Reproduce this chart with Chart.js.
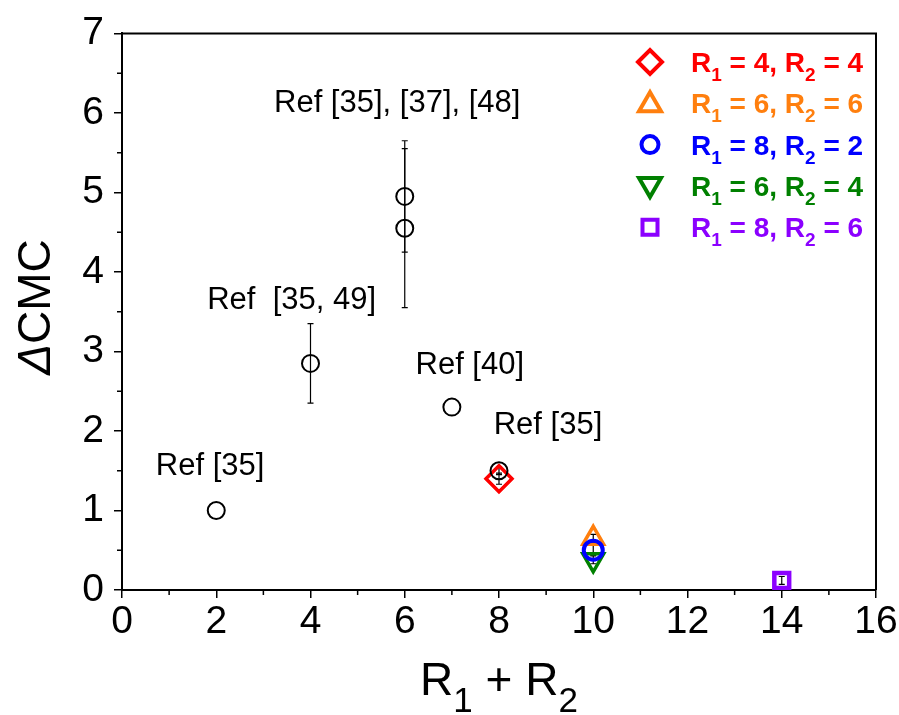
<!DOCTYPE html>
<html>
<head>
<meta charset="utf-8">
<script src="https://cdn.jsdelivr.net/npm/chart.js@4"></script>
<style>
html,body{margin:0;padding:0;background:#fff;}
#wrap{width:899px;height:715px;}
</style>
</head>
<body>
<div id="wrap"><canvas id="c" width="899" height="715"></canvas></div>
<script>
// ---- data ----
const xTicks = [0, 2, 4, 6, 8, 10, 12, 14, 16];
const yTicks = [0, 1, 2, 3, 4, 5, 6, 7];

const refX = [2, 4, 6, 6, 7, 8];
const refY = [1.0, 2.85, 4.95, 4.55, 2.3, 1.5];
const refErr = [0, 0.5, 0.7, 1.0, 0, 0.05];

const r44X = [8];   const r44Y = [1.4];  const r44Err = [0.07];
const r66X = [10];  const r66Y = [0.65]; const r66Err = [0.05];
const r82X = [10];  const r82Y = [0.5];  const r82Err = [0.06];
const r64X = [10];  const r64Y = [0.38]; const r64Err = [0.05];
const r86X = [14];  const r86Y = [0.12]; const r86Err = [0.05];

const refLabels = ['Ref [35]', 'Ref  [35, 49]', 'Ref [35], [37], [48]', 'Ref [40]', 'Ref [35]'];
const refLabelX = [1.87, 3.6, 5.84, 7.38, 9.04];
const refLabelY = [1.56, 3.64, 6.12, 2.82, 2.07];

const legendItems = [
  {a: '4', b: '4'}, {a: '6', b: '6'}, {a: '8', b: '2'}, {a: '6', b: '4'}, {a: '8', b: '6'}
];

// ---- build ----
const FONT = '"Liberation Sans", Arial, sans-serif';
function pts(xs, ys) { return xs.map((x, i) => ({x: x, y: ys[i]})); }

const datasets = [
  {label: 'Ref', data: pts(refX, refY), err: refErr, pointStyle: 'circle', pointRadius: 8.5,
   borderColor: '#000', backgroundColor: 'rgba(0,0,0,0)', borderWidth: 2, order: 0},
  {label: 'R1 = 4, R2 = 4', data: pts(r44X, r44Y), err: r44Err, pointStyle: 'rectRot', pointRadius: 13,
   borderColor: '#ff0000', backgroundColor: 'rgba(0,0,0,0)', borderWidth: 3.5, order: 3},
  {label: 'R1 = 6, R2 = 6', data: pts(r66X, r66Y), err: r66Err, pointStyle: 'triangle', pointRadius: 12,
   borderColor: '#ff7f0e', backgroundColor: 'rgba(0,0,0,0)', borderWidth: 3.5, order: 4},
  {label: 'R1 = 8, R2 = 2', data: pts(r82X, r82Y), err: r82Err, pointStyle: 'circle', pointRadius: 9.5,
   borderColor: '#0000ff', backgroundColor: 'rgba(0,0,0,0)', borderWidth: 4, order: 1},
  {label: 'R1 = 6, R2 = 4', data: pts(r64X, r64Y), err: r64Err, pointStyle: 'triangle', rotation: 180, pointRadius: 12,
   borderColor: '#008000', backgroundColor: 'rgba(0,0,0,0)', borderWidth: 3.5, order: 5},
  {label: 'R1 = 8, R2 = 6', data: pts(r86X, r86Y), err: r86Err, pointStyle: 'rect', pointRadius: 10.5,
   borderColor: '#8b00ff', backgroundColor: 'rgba(0,0,0,0)', borderWidth: 4.5, order: 2}
];

const legendColors = ['#ff0000', '#ff7f0e', '#0000ff', '#008000', '#8b00ff'];
const legendStyles = ['rectRot', 'triangle', 'circle', 'triangleDown', 'rect'];

const extras = {
  id: 'extras',
  beforeDatasetsDraw(chart) {
    const ctx = chart.ctx, xs = chart.scales.x, ys = chart.scales.y;
    ctx.save();
    ctx.strokeStyle = '#000';
    ctx.lineWidth = 1.2;
    chart.data.datasets.forEach(ds => {
      ds.data.forEach((p, i) => {
        const e = ds.err[i];
        if (!e) return;
        const px = xs.getPixelForValue(p.x);
        const y1 = ys.getPixelForValue(p.y - e), y2 = ys.getPixelForValue(p.y + e);
        ctx.beginPath();
        ctx.moveTo(px, y1); ctx.lineTo(px, y2);
        ctx.moveTo(px - 3, y1); ctx.lineTo(px + 3, y1);
        ctx.moveTo(px - 3, y2); ctx.lineTo(px + 3, y2);
        ctx.stroke();
      });
    });
    ctx.restore();
  },
  afterDraw(chart) {
    const ctx = chart.ctx, xs = chart.scales.x, ys = chart.scales.y, a = chart.chartArea;
    ctx.save();
    ctx.strokeStyle = '#000';
    ctx.lineWidth = 2;
    ctx.beginPath();
    ctx.moveTo(a.left, a.top); ctx.lineTo(a.right, a.top); ctx.lineTo(a.right, a.bottom);
    ctx.stroke();
    ctx.lineWidth = 1.5;
    ctx.beginPath();
    for (let v = 1; v < 16; v += 2) {
      const px = xs.getPixelForValue(v);
      ctx.moveTo(px, a.bottom); ctx.lineTo(px, a.bottom + 5);
    }
    for (let v = 0.5; v < 7; v += 1) {
      const py = ys.getPixelForValue(v);
      ctx.moveTo(a.left, py); ctx.lineTo(a.left - 5, py);
    }
    ctx.stroke();

    // annotations
    ctx.fillStyle = '#000';
    ctx.font = '31px ' + FONT;
    ctx.textAlign = 'center';
    ctx.textBaseline = 'middle';
    refLabels.forEach((t, i) => {
      ctx.fillText(t, xs.getPixelForValue(refLabelX[i]), ys.getPixelForValue(refLabelY[i]));
    });

    // legend
    const lx = 650, tx = 691, y0 = 62, dy = 41.3;
    legendItems.forEach((it, i) => {
      const cy = y0 + i * dy;
      const col = legendColors[i];
      ctx.strokeStyle = col;
      ctx.lineWidth = 4;
      ctx.lineJoin = 'miter';
      ctx.beginPath();
      const st = legendStyles[i];
      if (st === 'rectRot') {
        ctx.moveTo(lx - 12, cy); ctx.lineTo(lx, cy - 12); ctx.lineTo(lx + 12, cy); ctx.lineTo(lx, cy + 12); ctx.closePath();
      } else if (st === 'triangle') {
        ctx.moveTo(lx, cy - 11); ctx.lineTo(lx + 11, cy + 8); ctx.lineTo(lx - 11, cy + 8); ctx.closePath();
      } else if (st === 'triangleDown') {
        ctx.moveTo(lx, cy + 11); ctx.lineTo(lx + 11, cy - 8); ctx.lineTo(lx - 11, cy - 8); ctx.closePath();
      } else if (st === 'circle') {
        ctx.arc(lx, cy, 8.5, 0, Math.PI * 2);
      } else {
        ctx.rect(lx - 7.5, cy - 7.5, 15, 15);
      }
      ctx.stroke();
      ctx.fillStyle = col;
      ctx.textAlign = 'left';
      ctx.textBaseline = 'alphabetic';
      const base = cy + 10;
      const big = 'bold 28px ' + FONT, small = 'bold 19px ' + FONT;
      const parts = [
        ['R', big, 0], ['1', small, 9], [' = ' + it.a + ', R', big, 0], ['2', small, 9], [' = ' + it.b, big, 0]
      ];
      let x = tx;
      parts.forEach(p => {
        ctx.font = p[1];
        ctx.fillText(p[0], x, base + p[2]);
        x += ctx.measureText(p[0]).width;
      });
    });

    // x axis title
    ctx.fillStyle = '#000';
    ctx.textAlign = 'left';
    ctx.textBaseline = 'alphabetic';
    const xb = 695;
    const mainF = '46px ' + FONT, subF = '35px ' + FONT;
    const xparts = [['R', mainF, 0], ['1', subF, 17], [' + R', mainF, 0], ['2', subF, 17]];
    let tw = 0;
    xparts.forEach(p => { ctx.font = p[1]; tw += ctx.measureText(p[0]).width; });
    let xx = 499 - tw / 2;
    xparts.forEach(p => { ctx.font = p[1]; ctx.fillText(p[0], xx, xb + p[2]); xx += ctx.measureText(p[0]).width; });

    // y axis title
    ctx.translate(50, 307);
    ctx.rotate(-Math.PI / 2);
    const dF = 'italic 46px ' + FONT, cF = '46px ' + FONT;
    ctx.font = dF; const w1 = ctx.measureText('Δ').width;
    ctx.font = cF; const w2 = ctx.measureText('CMC').width;
    let yx = -(w1 + w2) / 2;
    ctx.font = dF; ctx.fillText('Δ', yx, 0);
    ctx.font = cF; ctx.fillText('CMC', yx + w1, 0);
    ctx.restore();
  }
};

new Chart(document.getElementById('c'), {
  type: 'scatter',
  data: {datasets: datasets},
  options: {
    responsive: false,
    animation: false,
    devicePixelRatio: 1,
    layout: {padding: {top: 32, right: 23, bottom: 0, left: 0}},
    plugins: {legend: {display: false}, tooltip: {enabled: false}},
    scales: {
      x: {
        type: 'linear', min: 0, max: 16,
        afterBuildTicks: s => { s.ticks = xTicks.map(v => ({value: v})); },
        afterFit: s => { s.height = 125; },
        ticks: {color: '#000', font: {family: FONT, size: 39}, padding: 1, maxRotation: 0, autoSkip: false},
        grid: {display: true, drawOnChartArea: false, drawTicks: true, tickLength: 8, color: '#000', lineWidth: 1.5},
        border: {display: true, color: '#000', width: 2}
      },
      y: {
        type: 'linear', min: 0, max: 7,
        afterBuildTicks: s => { s.ticks = yTicks.map(v => ({value: v})); },
        afterFit: s => { s.width = 122; },
        ticks: {color: '#000', font: {family: FONT, size: 39}, padding: 10, autoSkip: false},
        grid: {display: true, drawOnChartArea: false, drawTicks: true, tickLength: 8, color: '#000', lineWidth: 1.5},
        border: {display: true, color: '#000', width: 2}
      }
    }
  },
  plugins: [extras]
});
</script>
</body>
</html>
